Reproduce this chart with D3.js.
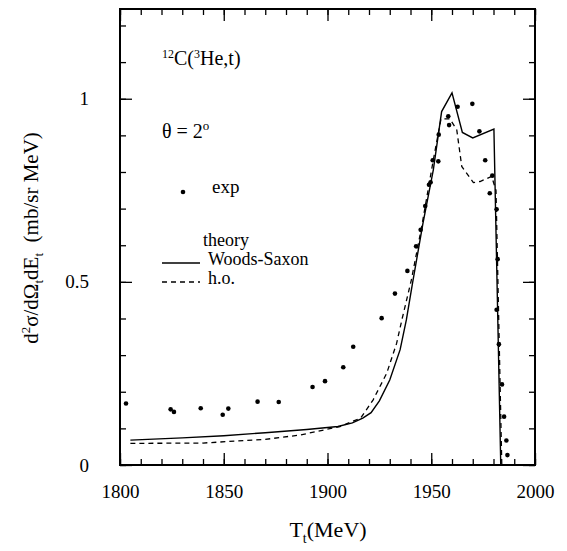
<!DOCTYPE html>
<html>
<head>
<meta charset="utf-8">
<script src="https://cdn.jsdelivr.net/npm/d3@7"></script>
<style>
  body { margin: 0; background: #fff; }
  svg, svg text, svg tspan { font-family: "Liberation Serif", "DejaVu Serif", serif !important; }
</style>
</head>
<body>
<svg width="567" height="551"></svg>
<script>
// experimental points [T (MeV), d2sigma]
var expT = [1802.9, 1824.4, 1826.0, 1838.9, 1849.5, 1852.2, 1866.3, 1876.5, 1892.8, 1898.8,
            1907.6, 1912.4, 1926.1, 1932.5, 1938.5, 1942.7, 1944.9, 1947.1, 1948.9, 1949.7,
            1950.7, 1953.4, 1953.6, 1958.2, 1958.6, 1962.7, 1969.8, 1973.2, 1976.0, 1978.2,
            1979.4, 1981.5, 1982.0, 1981.5, 1982.6, 1984.1, 1985.1, 1986.2, 1986.7];
var expV = [0.168, 0.152, 0.145, 0.155, 0.137, 0.154, 0.173, 0.172, 0.213, 0.229,
            0.267, 0.323, 0.401, 0.468, 0.530, 0.597, 0.642, 0.707, 0.765, 0.772,
            0.832, 0.829, 0.902, 0.952, 0.928, 0.978, 0.986, 0.911, 0.832, 0.742,
            0.790, 0.698, 0.562, 0.424, 0.330, 0.220, 0.132, 0.067, 0.027];

// theory, Woods-Saxon (solid)
var wsT = [1805, 1830, 1850, 1870, 1890, 1905, 1912, 1917, 1921, 1925, 1930, 1935, 1938,
           1941, 1946, 1951, 1955, 1960, 1965, 1970, 1980.2, 1983.5];
var wsV = [0.068, 0.074, 0.080, 0.088, 0.097, 0.105, 0.115, 0.128, 0.143, 0.175, 0.232, 0.315, 0.396,
           0.497, 0.660, 0.806, 0.965, 1.016, 0.908, 0.893, 0.917, 0];

// theory, h.o. (dashed)
var hoT = [1805, 1840, 1870, 1887, 1906, 1916, 1922, 1928.5, 1933.3, 1936, 1940.4, 1945.4, 1951,
           1954.7, 1959, 1962.3, 1964.7, 1970.3, 1973.5, 1979.1, 1981.2, 1984];
var hoV = [0.059, 0.060, 0.070, 0.082, 0.105, 0.128, 0.178, 0.250, 0.332, 0.400, 0.505, 0.651, 0.833,
           0.945, 0.945, 0.915, 0.815, 0.771, 0.774, 0.788, 0.75, 0];

var xTicks = [1800, 1850, 1900, 1950, 2000];
var yTicks = [0, 0.5, 1];
var yTickLabels = ["0", "0.5", "1"];

var SERIF = "Liberation Serif";

function main() {
  var svg = d3.select("svg").attr("font-family", SERIF),
      x0 = 120, x1 = 535, y0 = 9, y1 = 465;

  var x = d3.scaleLinear().domain([1800, 2000]).range([x0, x1]);
  var y = d3.scaleLinear().domain([0, 1.245]).range([y1, y0]);

  var minorX = d3.range(1800, 2001, 10);
  var minorY = d3.range(0, 1.21, 0.1);

  // frame
  svg.append("rect").attr("x", x0).attr("y", y0)
    .attr("width", x1 - x0).attr("height", y1 - y0)
    .attr("fill", "none").attr("stroke", "#000").attr("stroke-width", 2);

  function noLabels(a) { return a.tickFormat(""); }

  // minor ticks on all four sides
  svg.append("g").attr("transform", "translate(0," + y1 + ")")
    .call(noLabels(d3.axisBottom(x).tickValues(minorX).tickSize(-6)));
  svg.append("g").attr("transform", "translate(0," + y0 + ")")
    .call(noLabels(d3.axisTop(x).tickValues(minorX).tickSize(-6)));
  svg.append("g").attr("transform", "translate(" + x0 + ",0)")
    .call(noLabels(d3.axisLeft(y).tickValues(minorY).tickSize(-6)));
  svg.append("g").attr("transform", "translate(" + x1 + ",0)")
    .call(noLabels(d3.axisRight(y).tickValues(minorY).tickSize(-6)));

  // major ticks
  svg.append("g").attr("transform", "translate(0," + y1 + ")")
    .call(d3.axisBottom(x).tickValues(xTicks).tickSize(-12).tickPadding(20).tickFormat(d3.format("d")));
  svg.append("g").attr("transform", "translate(0," + y0 + ")")
    .call(noLabels(d3.axisTop(x).tickValues(xTicks).tickSize(-12)));
  svg.append("g").attr("transform", "translate(" + x0 + ",0)")
    .call(d3.axisLeft(y).tickValues(yTicks).tickSize(-12).tickPadding(31)
      .tickFormat(function(d, i) { return yTickLabels[i]; }));
  svg.append("g").attr("transform", "translate(" + x1 + ",0)")
    .call(noLabels(d3.axisRight(y).tickValues(yTicks).tickSize(-12)));

  svg.selectAll(".domain").remove();
  svg.selectAll("g").attr("font-family", SERIF);
  svg.selectAll(".tick line").attr("stroke", "#000").attr("stroke-width", 1.3);
  svg.selectAll(".tick text").attr("font-size", 19).attr("fill", "#000");

  // curves
  var line = d3.line().x(function(d) { return x(d[0]); }).y(function(d) { return y(d[1]); });

  svg.append("path").datum(d3.zip(wsT, wsV))
    .attr("d", line).attr("fill", "none").attr("stroke", "#000").attr("stroke-width", 1.4);
  svg.append("path").datum(d3.zip(hoT, hoV))
    .attr("d", line).attr("fill", "none").attr("stroke", "#000").attr("stroke-width", 1.3)
    .attr("stroke-dasharray", "5,4");

  svg.selectAll(".pt").data(d3.zip(expT, expV)).enter().append("circle")
    .attr("class", "pt")
    .attr("cx", function(d) { return x(d[0]); })
    .attr("cy", function(d) { return y(d[1]); })
    .attr("r", 2.3).attr("fill", "#000");

  // annotations
  var t1 = svg.append("text").attr("x", 162).attr("y", 65).attr("font-size", 20);
  t1.append("tspan").text("12").attr("font-size", 12).attr("dy", -7);
  t1.append("tspan").text("C(").attr("dy", 7);
  t1.append("tspan").text("3").attr("font-size", 12).attr("dy", -7);
  t1.append("tspan").text("He,t)").attr("dy", 7);

  var t2 = svg.append("text").attr("x", 162).attr("y", 138).attr("font-size", 20);
  t2.append("tspan").text("θ = 2");
  t2.append("tspan").text("o").attr("font-size", 13).attr("dy", -8);

  svg.append("circle").attr("cx", 183).attr("cy", 192).attr("r", 2.3).attr("fill", "#000");
  svg.append("text").attr("x", 212).attr("y", 193).attr("font-size", 19).text("exp");

  svg.append("text").attr("x", 203).attr("y", 246).attr("font-size", 18).text("theory");
  svg.append("line").attr("x1", 162).attr("x2", 200).attr("y1", 263).attr("y2", 263)
    .attr("stroke", "#000").attr("stroke-width", 1.4);
  svg.append("text").attr("x", 208).attr("y", 265).attr("font-size", 18).text("Woods-Saxon");
  svg.append("line").attr("x1", 162).attr("x2", 200).attr("y1", 282).attr("y2", 282)
    .attr("stroke", "#000").attr("stroke-width", 1.3).attr("stroke-dasharray", "5,4");
  svg.append("text").attr("x", 208).attr("y", 284).attr("font-size", 18).text("h.o.");

  // axis titles
  var xt = svg.append("text").attr("x", 328).attr("y", 537).attr("text-anchor", "middle")
    .attr("font-size", 22);
  xt.append("tspan").text("T");
  xt.append("tspan").text("t").attr("font-size", 14).attr("dy", 6);
  xt.append("tspan").text("(MeV)").attr("dy", -6);

  var yt = svg.append("text").attr("transform", "translate(38,238) rotate(-90)")
    .attr("text-anchor", "middle").attr("font-size", 21);
  yt.append("tspan").text("d");
  yt.append("tspan").text("2").attr("font-size", 13).attr("dy", -8);
  yt.append("tspan").text("σ/dΩ").attr("dy", 8);
  yt.append("tspan").text("t").attr("font-size", 13).attr("dy", 5);
  yt.append("tspan").text("dE").attr("dy", -5);
  yt.append("tspan").text("t").attr("font-size", 13).attr("dy", 5);
  yt.append("tspan").text("\u00a0\u00a0(mb/sr MeV)").attr("dy", -5);
}

main();
</script>
</body>
</html>
